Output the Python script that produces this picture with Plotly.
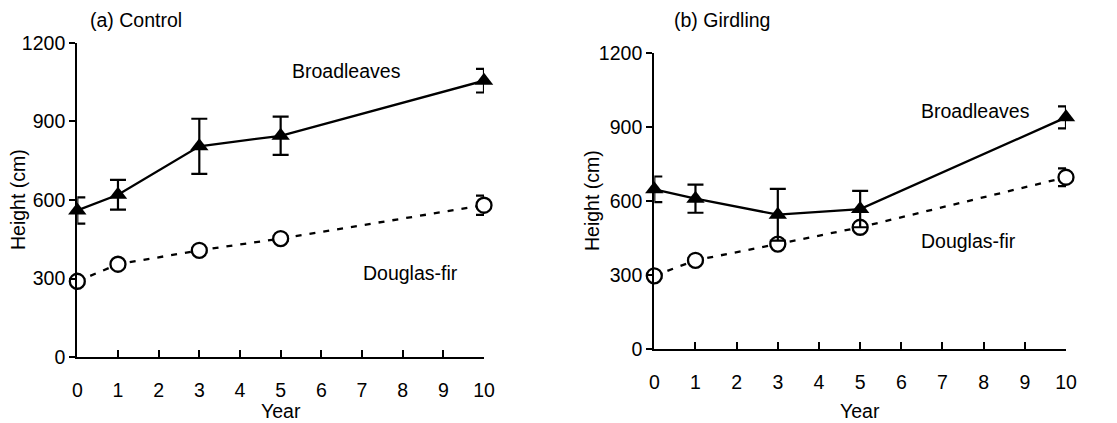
import plotly.graph_objects as go

years = [0, 1, 3, 5, 10]

# (a) Control
ctrl_broad = [560, 620, 805, 845, 1055]
ctrl_broad_err = [50, 57, 105, 73, 45]
ctrl_fir = [290, 355, 408, 453, 580]
ctrl_fir_err = [8, 8, 8, 8, 37]

# (b) Girdling
gird_broad = [648, 610, 545, 568, 940]
gird_broad_err = [52, 57, 105, 74, 45]
gird_fir = [297, 360, 426, 494, 697]
gird_fir_err = [8, 8, 8, 8, 36]

x_ticks = list(range(0, 11))
y_ticks = [0, 300, 600, 900, 1200]

# the page body has an 8px default margin; size the figure so it fits the window
OFF = 8
W, H = 1117 - OFF, 423 - OFF
FONT = "Liberation Sans, Arial, sans-serif"
FS = 19.5

def px(x):
    return (x - OFF) / W

def py(y):
    return (H - (y - OFF)) / H

fig = go.Figure()

def add_panel(xa, ya, broad, broad_err, fir, fir_err):
    fig.add_trace(go.Scatter(
        x=years, y=fir, xaxis=xa, yaxis=ya, mode="lines+markers",
        line=dict(color="black", width=2.3, dash="6px,8px"),
        marker=dict(symbol="circle", size=15, color="white",
                    line=dict(color="black", width=2.3)),
        error_y=dict(type="data", array=fir_err, visible=True,
                     color="black", thickness=2.2, width=8),
        cliponaxis=False, showlegend=False))
    fig.add_trace(go.Scatter(
        x=years, y=broad, xaxis=xa, yaxis=ya, mode="lines+markers",
        line=dict(color="black", width=2.3),
        marker=dict(symbol="triangle-up", size=16, color="black"),
        error_y=dict(type="data", array=broad_err, visible=True,
                     color="black", thickness=2.2, width=8),
        cliponaxis=False, showlegend=False))

add_panel("x", "y", ctrl_broad, ctrl_broad_err, ctrl_fir, ctrl_fir_err)
add_panel("x2", "y2", gird_broad, gird_broad_err, gird_fir, gird_fir_err)

xcommon = dict(range=[0, 10], tickvals=x_ticks, ticks="inside", ticklen=7,
               tickwidth=2, tickcolor="black", showline=True, linecolor="black",
               linewidth=2.3, showgrid=False, zeroline=False, automargin=False,
               tickfont=dict(family=FONT, size=FS, color="black"),
               ticklabelstandoff=14)
ycommon = dict(range=[0, 1200], tickvals=y_ticks, ticks="outside", ticklen=6,
               tickwidth=2, tickcolor="black", showline=True, linecolor="black",
               linewidth=2.3, showgrid=False, zeroline=False, automargin=False,
               tickfont=dict(family=FONT, size=FS, color="black"))

fig.update_layout(
    width=W, height=H,
    margin=dict(l=0, r=0, t=0, b=0, autoexpand=False),
    paper_bgcolor="white", plot_bgcolor="white",
    font=dict(family=FONT, size=FS, color="black"),
    xaxis=dict(domain=[px(77.3), px(484)], anchor="y", **xcommon),
    yaxis=dict(domain=[py(357.3), py(42.7)], anchor="x", **ycommon),
    xaxis2=dict(domain=[px(654.3), px(1066)], anchor="y2", **xcommon),
    yaxis2=dict(domain=[py(349), py(53.3)], anchor="x2", **ycommon),
)

ann = [
    dict(text="(a) Control", x=px(88), y=py(20), xref="paper", yref="paper",
         xanchor="left", yanchor="middle"),
    dict(text="(b) Girdling", x=px(672), y=py(20), xref="paper", yref="paper",
         xanchor="left", yanchor="middle"),
    dict(text="Height (cm)", x=px(18), y=py(200), xref="paper", yref="paper",
         textangle=-90, xanchor="center", yanchor="middle"),
    dict(text="Height (cm)", x=px(592), y=py(201), xref="paper", yref="paper",
         textangle=-90, xanchor="center", yanchor="middle"),
    dict(text="Year", x=px(281), y=py(411), xref="paper", yref="paper",
         xanchor="center", yanchor="middle"),
    dict(text="Year", x=px(860), y=py(411), xref="paper", yref="paper",
         xanchor="center", yanchor="middle"),
    dict(text="Broadleaves", x=5.23, y=1092, xref="x", yref="y",
         xanchor="left", yanchor="middle"),
    dict(text="Douglas-fir", x=6.97, y=321, xref="x", yref="y",
         xanchor="left", yanchor="middle"),
    dict(text="Broadleaves", x=6.43, y=966, xref="x2", yref="y2",
         xanchor="left", yanchor="middle"),
    dict(text="Douglas-fir", x=6.43, y=438, xref="x2", yref="y2",
         xanchor="left", yanchor="middle"),
]
for a in ann:
    a.update(showarrow=False, font=dict(family=FONT, size=FS, color="black"))
fig.update_layout(annotations=ann)

fig.write_html("out.html")
